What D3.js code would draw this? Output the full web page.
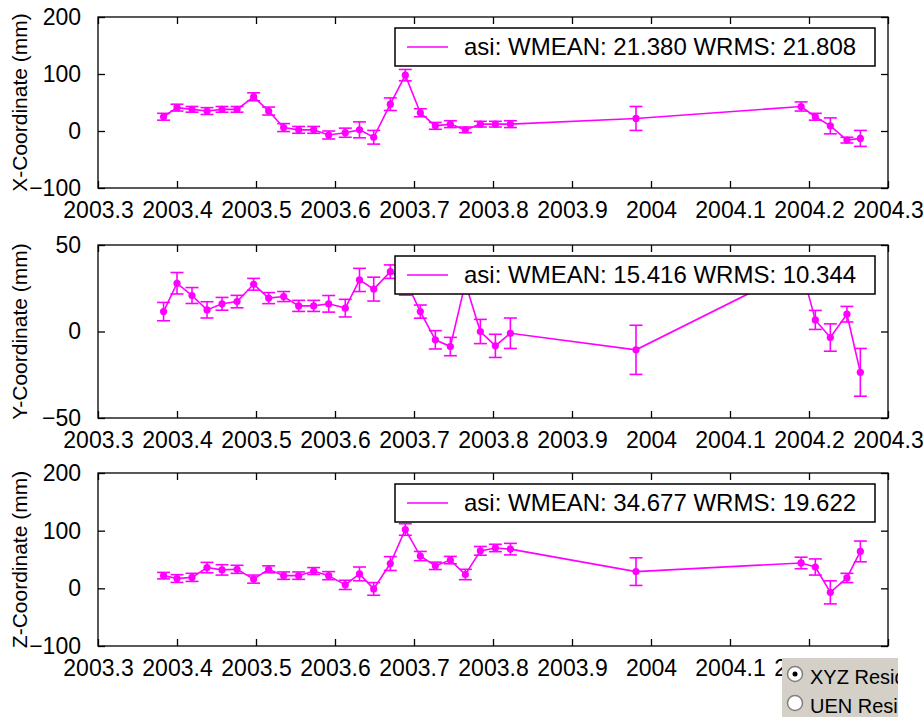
<!DOCTYPE html>
<html><head><meta charset="utf-8">
<script src="https://cdn.jsdelivr.net/npm/d3@7"></script>
<style>body{margin:0;background:#fff;} svg{display:block;font-family:"Liberation Sans",Arial,sans-serif;}</style>
</head><body>
<svg id="c" width="924" height="717"></svg>
<script>
const dates = [2003.383,2003.400,2003.419,2003.438,2003.457,2003.476,2003.497,2003.516,2003.535,2003.554,
  2003.573,2003.592,2003.613,2003.631,2003.649,2003.670,2003.689,2003.708,2003.727,2003.746,
  2003.765,2003.784,2003.803,2003.822,2003.981,2004.190,2004.208,2004.227,2004.248,2004.265];
const xVals = [25,41,38,35,38,38,60,35,6,2,2,-7,-3,2,-11,47,98,32,9,12,2,12,12,12,22,43,25,9,-16,-13];
const xErr  = [6,6,5,6,5,5,7,7,7,6,6,7,8,14,12,11,10,7,6,6,5,5,5,6,21,8,6,14,5,14];
const yVals = [11.5,27.9,20.8,12.5,16,17.3,27.3,19.3,20.2,14.8,14.8,16,13.5,29.8,24.5,34.6,30,11.5,-4.8,-8.7,28,0,-8.3,-1,-10.6,37,6.7,-3.5,10,-23.6];
const yErr  = [5.3,6.2,4.6,4.7,3.7,3.6,3.4,3.2,2.9,3.2,3.2,4.8,5.1,6.7,6.9,3.9,9,3.8,5.3,5.3,5,7,6.7,8.8,14.2,6,5.5,7.9,4.5,13.8];
const zVals = [22,17,19,36,32,33,16,33,22,22,30,22,6,25,-1,43,102,56,39,49,24,65,70,68,29,44,37,-7,18,64];
const zErr  = [5.6,6.7,7,9,9,7,7,6,6.4,6.4,6,7,8,12,11,12,10,8,6.4,6.4,9,7.6,6.4,10,24,10,14,20,8,18];
const xTicks = [2003.3,2003.4,2003.5,2003.6,2003.7,2003.8,2003.9,2004,2004.1,2004.2,2004.3];
const xTickLabels = ["2003.3","2003.4","2003.5","2003.6","2003.7","2003.8","2003.9","2004","2004.1","2004.2","2004.3"];
const panelNames = ["X-Coordinate (mm)","Y-Coordinate (mm)","Z-Coordinate (mm)"];
const panelDomains = [[-100,200],[-50,50],[-100,200]];
const panelTicks = [[-100,0,100,200],[-50,0,50],[-100,0,100,200]];
const legendTexts = ["asi: WMEAN: 21.380 WRMS: 21.808","asi: WMEAN: 15.416 WRMS: 10.344","asi: WMEAN: 34.677 WRMS: 19.622"];
const radioLabels = ["XYZ Residuals","UEN Residuals"];

const svg = d3.select("#c");
const L = 98, R = 888;
const tops = [17,245,473], bottoms = [188,418,646];
const MAG = "#ff00ff";
const x = d3.scaleLinear().domain([2003.3,2004.3]).range([L,R]);
const series = [[xVals,xErr],[yVals,yErr],[zVals,zErr]];

series.forEach(([vals,errs],p)=>{
  const y = d3.scaleLinear().domain(panelDomains[p]).range([bottoms[p],tops[p]]);
  const g = svg.append("g");
  g.append("rect").attr("x",L).attr("y",tops[p]).attr("width",R-L).attr("height",bottoms[p]-tops[p])
    .attr("fill","#fff").attr("stroke","#000").attr("stroke-width",1.3);
  const bx = d3.axisBottom(x).tickValues(xTicks).tickSize(-7).tickFormat((d,i)=>xTickLabels[i]).tickPadding(14);
  const gb = g.append("g").attr("transform",`translate(0,${bottoms[p]})`).call(bx);
  const tx = d3.axisTop(x).tickValues(xTicks).tickSize(-7).tickFormat("");
  const gt = g.append("g").attr("transform",`translate(0,${tops[p]})`).call(tx);
  const ly = d3.axisLeft(y).tickValues(panelTicks[p]).tickSize(-7).tickFormat(d3.format("d")).tickPadding(17);
  const gl = g.append("g").attr("transform",`translate(${L},0)`).call(ly);
  const ry = d3.axisRight(y).tickValues(panelTicks[p]).tickSize(-7).tickFormat("");
  const gr = g.append("g").attr("transform",`translate(${R},0)`).call(ry);
  [gb,gt,gl,gr].forEach(a=>{
    a.select(".domain").remove();
    a.selectAll(".tick line").attr("stroke","#000").attr("stroke-width",1.3);
    a.selectAll("text").attr("font-size",23).attr("fill","#000").attr("font-family","'Liberation Sans',Arial,sans-serif");
  });
  gb.selectAll("text").attr("dy","0.71em");
  g.append("text").attr("transform",`translate(27,${(tops[p]+bottoms[p])/2}) rotate(-90)`)
    .attr("text-anchor","middle").attr("font-size",21).attr("fill","#000").text(panelNames[p]);
  const pts = dates.map((d,i)=>[d,vals[i],errs[i]]);
  g.append("path").datum(pts).attr("fill","none").attr("stroke",MAG).attr("stroke-width",1.6)
    .attr("d",d3.line().x(d=>x(d[0])).y(d=>y(d[1])));
  const eb = g.append("g").attr("stroke",MAG).attr("stroke-width",1.6);
  pts.forEach(d=>{
    const cx = x(d[0]), y0 = y(d[1]-d[2]), y1 = y(d[1]+d[2]);
    eb.append("line").attr("x1",cx).attr("x2",cx).attr("y1",y0).attr("y2",y1);
    eb.append("line").attr("x1",cx-6.5).attr("x2",cx+6.5).attr("y1",y0).attr("y2",y0);
    eb.append("line").attr("x1",cx-6.5).attr("x2",cx+6.5).attr("y1",y1).attr("y2",y1);
  });
  g.append("g").selectAll("circle").data(pts).join("circle")
    .attr("cx",d=>x(d[0])).attr("cy",d=>y(d[1])).attr("r",3.6).attr("fill",MAG);
  const lt = tops[p]+11;
  const lg = g.append("g");
  lg.append("rect").attr("x",395).attr("y",lt).attr("width",480).attr("height",38)
    .attr("fill","#fff").attr("stroke","#000").attr("stroke-width",1.5);
  lg.append("line").attr("x1",407).attr("x2",448).attr("y1",lt+19).attr("y2",lt+19)
    .attr("stroke",MAG).attr("stroke-width",1.6);
  lg.append("text").attr("x",464).attr("y",lt+27).attr("font-size",24).attr("fill","#000").text(legendTexts[p]);
});

svg.append("rect").attr("x",898).attr("y",652).attr("width",26).attr("height",65).attr("fill","#fff");
svg.append("defs").append("clipPath").attr("id","rc").append("rect")
  .attr("x",782).attr("y",658).attr("width",116).attr("height",59);
const rp = svg.append("g").attr("clip-path","url(#rc)");
rp.append("rect").attr("x",782).attr("y",658).attr("width",116).attr("height",59).attr("fill","#d4d0c8");
radioLabels.forEach((t,i)=>{
  const cy = 674 + i*29;
  rp.append("circle").attr("cx",795).attr("cy",cy).attr("r",7.5).attr("fill","#fff")
    .attr("stroke","#808080").attr("stroke-width",1.5);
  if(i===0) rp.append("circle").attr("cx",795).attr("cy",cy).attr("r",2.5).attr("fill","#000");
  rp.append("text").attr("x",810).attr("y",cy+10).attr("font-size",20).attr("fill","#000").text(t);
});
</script>
</body></html>
